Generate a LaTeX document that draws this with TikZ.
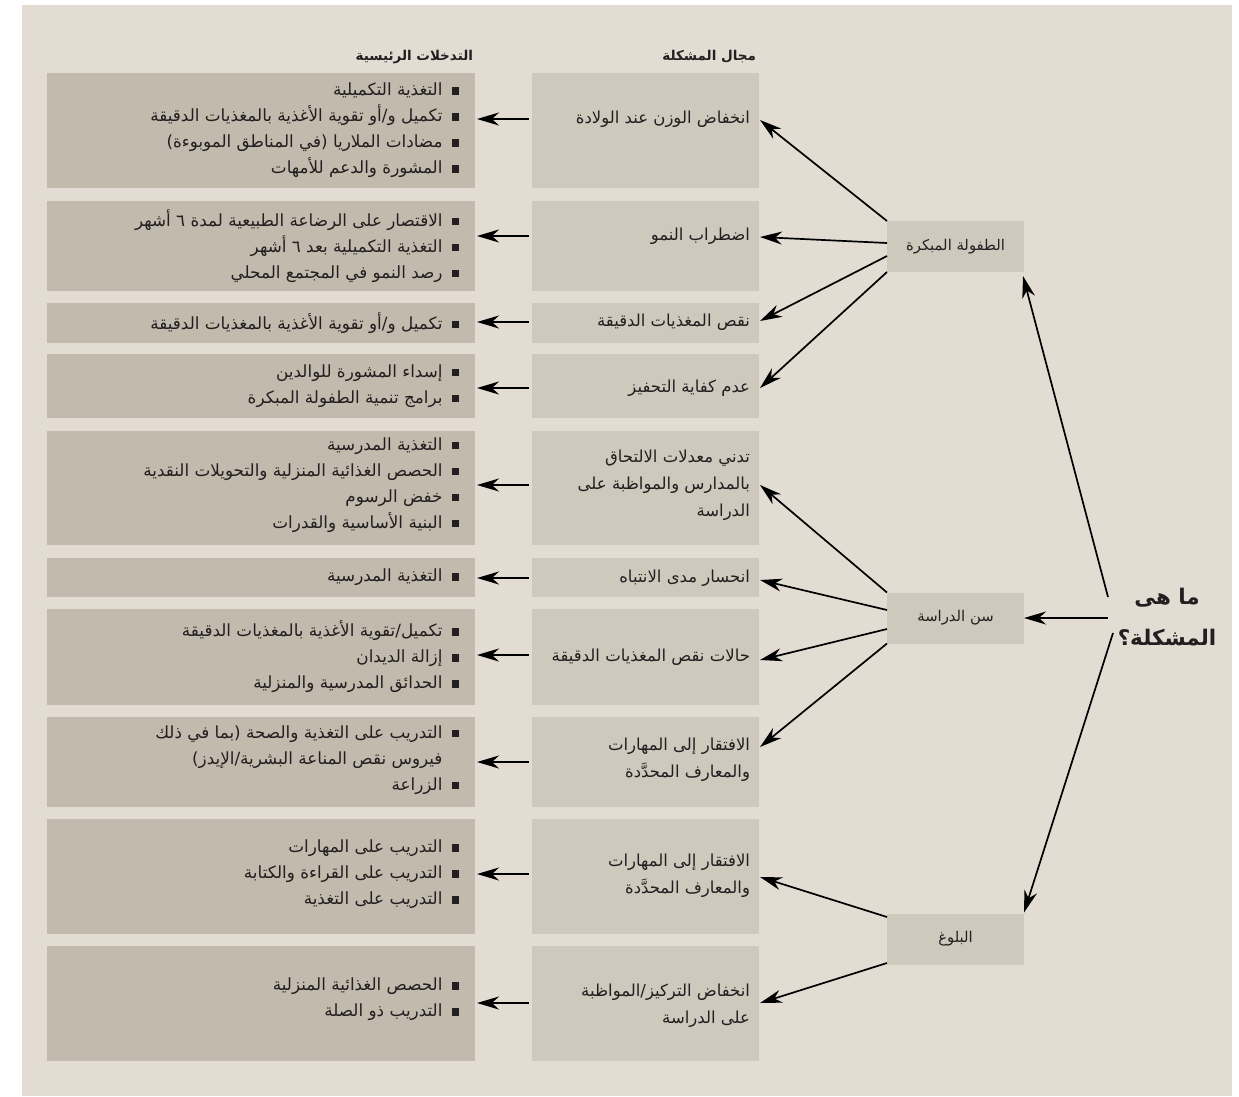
\documentclass[tikz,border=0pt]{standalone}
\usepackage{fontspec}
\usetikzlibrary{calc,arrows.meta}
\newfontfamily\arabicfont[Script=Arabic]{DejaVu Sans}
\TeXXeTstate=1
\definecolor{pagebg}{HTML}{E2DCD3}
\definecolor{leftbox}{HTML}{C2BAAD}
\definecolor{midbox}{HTML}{CFC8BD}
\definecolor{ink}{HTML}{231F20}
\newcommand\AR[1]{\beginR #1\endR}
\newcommand\bul{\rule[1pt]{7.5pt}{7.5pt}\hspace{9pt}}
\newcommand\nobul{\hspace{16.5pt}}
\tikzset{
  every node/.style={inner sep=0pt, outer sep=0pt},
  lbox/.style={fill=leftbox, anchor=north west, minimum width=428pt},
  mbox/.style={fill=midbox, anchor=north west, minimum width=227pt},
  cbox/.style={fill=midbox, minimum width=137pt, minimum height=51pt,
    font=\arabicfont\fontsize{14.8}{18}\selectfont, text=ink},
  ltext/.style={anchor=east, align=right, text=ink,
    font=\arabicfont\fontsize{16.8}{26}\selectfont},
  mtext/.style={anchor=east, align=right, text=ink,
    font=\arabicfont\fontsize{16.5}{27}\selectfont},
  hdr/.style={anchor=east, text=ink, font=\arabicfont\bfseries\fontsize{13.5}{16}\selectfont},
  ttl/.style={align=center, text=ink, font=\arabicfont\bfseries\fontsize{21.5}{41}\selectfont},
  arr/.style={-{Stealth[length=22pt,width=13pt,inset=7pt]}, line width=1.7pt, draw=black}
}
\begin{document}
\begin{tikzpicture}[x=1pt,y=-1pt]
\fill[white] (0,0) rectangle (1239,1096);
\useasboundingbox (0,0) rectangle (1239,1096);
\fill[pagebg] (22,5) rectangle (1232,1096);

% headers
\node[hdr] (h1) at (473,57) {\AR{التدخلات الرئيسية}};
\node[hdr] (h2) at (756,57) {\AR{مجال المشكلة}};

% left boxes
\node[lbox, minimum height=115pt] (lb1) at (47,73) {};
\node[lbox, minimum height=90pt]  (lb2) at (47,201) {};
\node[lbox, minimum height=40pt]  (lb3) at (47,303) {};
\node[lbox, minimum height=64pt]  (lb4) at (47,354) {};
\node[lbox, minimum height=114pt] (lb5) at (47,431) {};
\node[lbox, minimum height=39pt]  (lb6) at (47,558) {};
\node[lbox, minimum height=96pt]  (lb7) at (47,609) {};
\node[lbox, minimum height=90pt]  (lb8) at (47,717) {};
\node[lbox, minimum height=115pt] (lb9) at (47,819) {};
\node[lbox, minimum height=115pt] (lb10) at (47,946) {};

% middle boxes
\node[mbox, minimum height=115pt] (mb1) at (532,73) {};
\node[mbox, minimum height=90pt]  (mb2) at (532,201) {};
\node[mbox, minimum height=40pt]  (mb3) at (532,303) {};
\node[mbox, minimum height=64pt]  (mb4) at (532,354) {};
\node[mbox, minimum height=114pt] (mb5) at (532,431) {};
\node[mbox, minimum height=39pt]  (mb6) at (532,558) {};
\node[mbox, minimum height=96pt]  (mb7) at (532,609) {};
\node[mbox, minimum height=90pt]  (mb8) at (532,717) {};
\node[mbox, minimum height=115pt] (mb9) at (532,819) {};
\node[mbox, minimum height=115pt] (mb10) at (532,946) {};

% category nodes
\node[cbox] (ec) at (955.5,246.5) {\AR{الطفولة المبكرة}};
\node[cbox] (sa) at (955.5,618) {\AR{سن الدراسة}};
\node[cbox] (ad) at (955.5,939) {\AR{البلوغ}};

% title
\node[ttl] (q) at (1167,617) {\AR{ما هى}\\\AR{المشكلة؟}};
\coordinate (qa) at (1108,597);
\coordinate (qb) at (1108,618);
\coordinate (qc) at (1113,633);

% left texts
\node[ltext] (lt1) at ($(lb1.east)+(-16,0)$) {\AR{\bul التغذية التكميلية}\\
  \AR{\bul تكميل و/أو تقوية الأغذية بالمغذيات الدقيقة}\\
  \AR{\bul مضادات الملاريا (في المناطق الموبوءة)}\\
  \AR{\bul المشورة والدعم للأمهات}};
\node[ltext] (lt2) at ($(lb2.east)+(-16,0)$) {\AR{\bul الاقتصار على الرضاعة الطبيعية لمدة ٦ أشهر}\\
  \AR{\bul التغذية التكميلية بعد ٦ أشهر}\\
  \AR{\bul رصد النمو في المجتمع المحلي}};
\node[ltext] (lt3) at ($(lb3.east)+(-16,0)$) {\AR{\bul تكميل و/أو تقوية الأغذية بالمغذيات الدقيقة}};
\node[ltext] (lt4) at ($(lb4.east)+(-16,0)$) {\AR{\bul إسداء المشورة للوالدين}\\
  \AR{\bul برامج تنمية الطفولة المبكرة}};
\node[ltext] (lt5) at ($(lb5.east)+(-16,-3)$) {\AR{\bul التغذية المدرسية}\\
  \AR{\bul الحصص الغذائية المنزلية والتحويلات النقدية}\\
  \AR{\bul خفض الرسوم}\\
  \AR{\bul البنية الأساسية والقدرات}};
\node[ltext] (lt6) at ($(lb6.east)+(-16,0)$) {\AR{\bul التغذية المدرسية}};
\node[ltext] (lt7) at ($(lb7.east)+(-16,0)$) {\AR{\bul تكميل/تقوية الأغذية بالمغذيات الدقيقة}\\
  \AR{\bul إزالة الديدان}\\
  \AR{\bul الحدائق المدرسية والمنزلية}};
\node[ltext] (lt8) at ($(lb8.east)+(-16,-2)$) {\AR{\bul التدريب على التغذية والصحة (بما في ذلك}\\
  \AR{\nobul فيروس نقص المناعة البشرية/الإيدز)}\\
  \AR{\bul الزراعة}};
\node[ltext] (lt9) at ($(lb9.east)+(-16,-2)$) {\AR{\bul التدريب على المهارات}\\
  \AR{\bul التدريب على القراءة والكتابة}\\
  \AR{\bul التدريب على التغذية}};
\node[ltext] (lt10) at ($(lb10.east)+(-16,-4)$) {\AR{\bul الحصص الغذائية المنزلية}\\
  \AR{\bul التدريب ذو الصلة}};

% middle texts
\node[mtext] (mt1) at (750,119) {\AR{انخفاض الوزن عند الولادة}};
\node[mtext] (mt2) at (750,236) {\AR{اضطراب النمو}};
\node[mtext] (mt3) at (750,322) {\AR{نقص المغذيات الدقيقة}};
\node[mtext] (mt4) at (750,388) {\AR{عدم كفاية التحفيز}};
\node[mtext] (mt5) at (750,485) {\AR{تدني معدلات الالتحاق}\\
  \AR{بالمدارس والمواظبة على}\\\AR{الدراسة}};
\node[mtext] (mt6) at (750,578) {\AR{انحسار مدى الانتباه}};
\node[mtext] (mt7) at (750,657) {\AR{حالات نقص المغذيات الدقيقة}};
\node[mtext] (mt8) at (750,760) {\AR{الافتقار إلى المهارات}\\
  \AR{والمعارف المحدَّدة}};
\node[mtext] (mt9) at (750,876) {\AR{الافتقار إلى المهارات}\\
  \AR{والمعارف المحدَّدة}};
\node[mtext] (mt10) at (750,1006) {\AR{انخفاض التركيز/المواظبة}\\
  \AR{على الدراسة}};

% middle -> left arrows
\foreach \i/\dy in {1/0,2/0,3/0,4/0,5/0,6/0,7/-2,8/2,9/-2,10/-3}{
  \draw[arr] ($(mb\i.west |- mt\i)+(-3,\dy)$) -- ($(lb\i.east |- mt\i)+(2,\dy)$);
}

% category -> middle arrows
\draw[arr] (ec.north west) -- ($(mb1.east |- mt1)+(1,1)$);
\draw[arr] ($(ec.west)+(0,-3.5)$) -- ($(mb2.east |- mt2)+(1,1)$);
\draw[arr] ($(ec.west)+(0,9.5)$) -- ($(mb3.east |- mt3)+(1,-1)$);
\draw[arr] (ec.south west) -- ($(mb4.east |- mt4)+(1,0)$);
\draw[arr] (sa.north west) -- ($(mb5.east |- mt5)+(1,0)$);
\draw[arr] ($(sa.west)+(0,-8)$) -- ($(mb6.east |- mt6)+(1,2)$);
\draw[arr] ($(sa.west)+(0,11)$) -- ($(mb7.east |- mt7)+(1,3)$);
\draw[arr] (sa.south west) -- ($(mb8.east |- mt8)+(1,-13)$);
\draw[arr] ($(ad.west)+(0,-22)$) -- ($(mb9.east |- mt9)+(1,1)$);
\draw[arr] ($(ad.west)+(0,24)$) -- ($(mb10.east |- mt10)+(1,-3)$);

% title -> categories
\draw[arr] (qa) -- ($(ec.south east)+(-1,4)$);
\draw[arr] (qb) -- (sa.east);
\draw[arr] (qc) -- ($(ad.north east)+(0,-1)$);
\end{tikzpicture}
\end{document}
